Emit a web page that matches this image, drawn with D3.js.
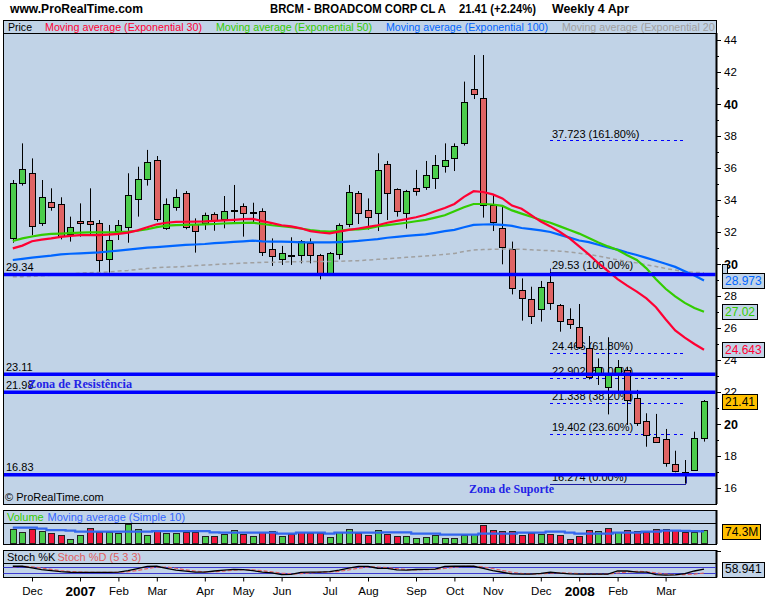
<!DOCTYPE html>
<html><head><meta charset="utf-8">
<script src="https://cdn.jsdelivr.net/npm/d3@7"></script>
<style>body{margin:0;background:#fff;}svg{display:block;font-family:"Liberation Sans",Arial,sans-serif;}</style>
</head><body><svg id="c" width="768" height="600"></svg>
<script>
// ---------------- DATA ----------------
const opens  = [31.6,35.04,35.67,32.54,33.86,33.73,31.88,32.71,32.71,32.54,30.29,32.04,32.29,34.04,35.31,36.5,32.23,33.54,34.42,32.5,32.54,33.13,32.79,33.36,33.63,33.19,33.31,30.92,30.33,30.58,30.58,31.33,30.54,29.42,30.6,32.48,34.42,33.35,33.21,36.23,34.67,33.17,34.73,34.83,35.4,36.15,36.65,37.58,40.92,40.35,33.69,32.23,30.94,28.38,27.79,27.17,28.9,27.44,26.56,26.04,24.73,23.21,22.29,23.21,23.38,21.65,20.21,19.17,19.04,17.48,16.97,17.13,19.1];
const highs  = [35.25,37.54,36.6,35.25,34.73,34.17,32.96,33.79,34.73,32.75,32.44,32.75,35.67,36.08,37.13,36.75,34.1,34.67,34.56,32.85,33.21,33.23,34.25,34.94,33.79,33.83,33.48,31.6,31.13,31.67,31.5,31.6,30.63,30.75,32.54,34.94,34.56,34.1,36.92,36.44,34.73,34.63,35.88,36.44,36.81,37.54,37.54,41.4,43.06,43.06,34.31,33.58,31.4,29.1,28.58,28.94,29.53,27.5,27.23,27.5,25.5,24.1,25.42,24.0,23.58,22.13,20.67,20.63,19.69,18.33,17.75,19.52,21.5];
const lows   = [31.33,34.9,31.8,32.38,33.33,31.54,31.4,31.71,31.81,29.46,29.46,31.5,31.33,32.96,34.9,32.65,32.13,33.33,32.17,30.71,32.13,32.08,32.23,32.58,31.71,32.58,30.5,29.88,29.94,29.94,30.04,30.04,29.04,29.35,30.29,32.3,32.5,32.15,32.06,32.75,32.96,32.21,34.27,34.63,34.69,35.71,35.81,37.4,40.31,32.9,32.06,29.98,28.1,26.46,26.25,26.4,27.13,25.77,25.94,24.69,22.79,22.44,20.6,22.02,19.94,19.88,18.58,18.86,17.33,16.98,16.27,17.08,18.9];
const closes = [35.04,35.92,32.38,34.17,33.58,31.75,32.33,32.54,32.48,30.25,31.5,32.42,34.31,35.31,36.4,32.79,33.73,34.17,32.33,32.08,33.06,32.75,33.31,33.4,33.17,33.23,30.77,30.52,30.67,30.54,31.44,30.54,29.42,30.67,32.42,34.48,33.17,32.96,35.88,34.46,33.33,34.56,34.58,35.56,36.19,36.5,37.38,40.13,40.6,33.69,32.65,31.04,28.48,27.86,26.77,28.58,27.54,26.46,26.23,24.79,22.96,23.54,23.17,23.54,21.5,20.04,19.29,18.9,17.54,17.06,17.0,19.1,21.41];

const ema30  = [30.98,31.15,31.42,31.52,31.6,31.7,31.76,31.8,31.81,31.81,31.84,31.88,31.96,32.1,32.3,32.48,32.58,32.63,32.64,32.65,32.66,32.7,32.73,32.76,32.8,32.82,32.68,32.55,32.42,32.35,32.23,32.05,31.97,31.92,32.02,32.13,32.22,32.32,32.42,32.58,32.7,32.8,32.92,33.08,33.3,33.5,33.75,34.2,34.55,34.5,34.35,34.1,33.65,33.45,33.05,32.65,32.35,32.0,31.6,31.1,30.6,30.05,29.55,29.05,28.65,28.27,27.85,27.3,26.55,25.85,25.4,25.0,24.643];
const ema50  = [31.44,31.6,31.72,31.82,31.88,31.9,31.93,31.96,31.98,31.98,31.98,31.99,32.02,32.08,32.17,32.3,32.4,32.43,32.44,32.46,32.48,32.5,32.53,32.55,32.57,32.58,32.5,32.42,32.37,32.3,32.22,32.12,32.05,32.02,32.08,32.15,32.17,32.22,32.35,32.43,32.5,32.58,32.67,32.76,32.9,33.05,33.3,33.55,33.75,33.75,33.72,33.63,33.35,33.15,32.95,32.75,32.58,32.35,32.13,31.9,31.62,31.35,31.1,30.88,30.55,30.25,29.73,29.05,28.45,27.98,27.57,27.25,27.02];
const ema100 = [30.25,30.32,30.4,30.46,30.52,30.6,30.64,30.67,30.7,30.73,30.78,30.84,30.9,30.96,31.02,31.06,31.1,31.15,31.19,31.22,31.25,31.3,31.34,31.38,31.42,31.46,31.42,31.4,31.4,31.38,31.35,31.35,31.35,31.35,31.37,31.4,31.44,31.5,31.56,31.64,31.7,31.76,31.8,31.85,31.95,32.05,32.13,32.3,32.44,32.47,32.48,32.45,32.38,32.25,32.18,32.1,32.0,31.82,31.65,31.47,31.37,31.2,31.03,30.9,30.72,30.56,30.38,30.2,30.02,29.82,29.55,29.28,28.973];
const ema200 = [29.2,29.21,29.22,29.26,29.3,29.33,29.37,29.43,29.46,29.47,29.5,29.56,29.6,29.66,29.72,29.77,29.8,29.82,29.85,29.9,29.93,29.96,30.0,30.03,30.06,30.08,30.1,30.11,30.12,30.14,30.15,30.15,30.15,30.16,30.17,30.19,30.21,30.25,30.29,30.33,30.37,30.42,30.46,30.5,30.55,30.6,30.66,30.78,30.88,30.9,30.92,30.93,30.93,30.92,30.89,30.86,30.83,30.8,30.75,30.67,30.59,30.5,30.38,30.26,30.16,30.07,29.95,29.85,29.72,29.62,29.52,29.48,29.45];

const volumes = [86,70,90,76,64,52,28,52,94,70,70,66,118,88,54,82,64,64,72,70,46,46,58,82,60,46,68,76,46,56,68,62,62,40,68,88,62,52,82,58,46,46,32,38,52,32,32,50,58,112,82,74,76,52,66,58,58,52,26,46,82,74,92,68,82,76,68,86,86,82,70,70,80];
const volumeDir = ("uududduudd"+"uuuuuduudd"+"uduududdud"+"ddduuuddud"+"duuuuuuuud"+"dddddudddd"+"dududddddd"+"duu").split("");
const volumeMA = [96,96,96,90,82,82,78,72,72,72,72,72,72,72,72,76,76,76,76,76,76,68,66,66,66,66,66,66,60,60,66,66,66,60,66,66,66,66,66,68,68,68,60,60,60,54,54,54,54,60,60,60,60,66,66,66,72,72,66,60,60,60,60,66,66,66,72,72,78,78,77,76,74.3];

const stochK = [87,87,72,55,45,36,30,29,29,29,29,32,45,65,86,87,66,50,40,32,32,42,50,58,55,45,32,25,8,10,29,32,32,35,50,70,86,86,68,67,52,50,56,58,60,86,87,87,87,67,45,30,14,13,13,20,30,22,14,13,13,13,13,42,42,32,32,7,3,5,16,42,58.941];
const stochD = [80,86,82,70,57,45,37,32,30,29,29,30,35,47,65,79,80,68,52,41,35,35,41,50,54,53,44,34,22,14,16,24,31,33,39,52,69,81,80,73,64,56,53,55,57,66,77,87,87,80,66,47,30,19,13,15,21,24,22,16,13,13,13,23,32,39,35,25,13,8,8,13,22];

const monthLabels = ["Dec","2007","Feb","Mar","Apr","May","Jun","Jul","Aug","Sep","Oct","Nov","Dec","2008","Feb","Mar"];
const monthIndex  = [2,7,11,15,20,24,28,33,37,42,46,50,55,59,63,68];
const priceTicks = [16,18,20,22,24,26,28,30,32,34,36,38,40,42,44];

const supportLevels = [29.34, 23.11, 21.98, 16.83];
const supportLabels = ["29.34","23.11","21.98","16.83"];
const fibValues = [37.723, 29.53, 24.466, 22.902, 21.338, 19.402, 16.274];
const fibPct    = ["161.80%","100.00%","61.80%","50.00%","38.20%","23.60%","0.00%"];
const fibStart = 56, fibEnd = 70;

// ---------------- LAYOUT ----------------
const svg = d3.select('#c');
const BG = '#c1d3e7';
const PL = 3.5, PR = 716;
const N = closes.length;
const x = d3.scaleLinear().domain([0, 72]).range([12.8, 704]);
const y = d3.scaleLinear().domain([16, 44]).range([488, 40]);
const yv = d3.scaleLinear().domain([0, 122.4]).range([543.7, 523.3]);
const ys = d3.scaleLinear().domain([0, 100]).range([575.4, 564.9]);

const GREEN = '#4ccd4c', RED = '#e06464', VRED = '#f2163c';
const C30 = '#ff0033', C50 = '#33cc00', C100 = '#0066ff', C200 = '#a0a0a0';

// header texts
[["www.ProRealTime.com",10,133],["BRCM - BROADCOM CORP CL A",270,176],["21.41 (+2.24%)",459,77],["Weekly  4 Apr",552,77]].forEach(d=>{
  svg.append('text').attr('x',d[1]).attr('y',12.5).attr('font-size',12.5).attr('font-weight','bold')
    .attr('textLength',d[2]).attr('lengthAdjust','spacingAndGlyphs').text(d[0]);
});

function box(y0, y1) {
  svg.append('rect').attr('x', PL).attr('y', y0).attr('width', PR - PL).attr('height', y1 - y0)
    .attr('fill', BG).attr('stroke', '#000').attr('stroke-width', 1).attr('shape-rendering','crispEdges');
}
box(20.5, 33.5); box(33.5, 504);
box(510.5, 523.5); box(523.5, 544);
box(550.5, 563.5); box(563.5, 577.5);

const defs = svg.append('defs');
defs.append('clipPath').attr('id','cp').append('rect').attr('x',PL+0.5).attr('y',34).attr('width',PR-PL-1).attr('height',469.5);
defs.append('clipPath').attr('id','cl').append('rect').attr('x',PL).attr('y',20).attr('width',PR-PL-1).attr('height',13);

// legend row
const leg = svg.append('g').attr('clip-path','url(#cl)').attr('font-size',11);
[["Price","#000",8,24],["Moving average (Exponential 30)",C30,45,157],["Moving average (Exponential 50)",C50,216,156],
 ["Moving average (Exponential 100)",C100,386,162],["Moving average (Exponential 200)",C200,562,162]].forEach(d=>{
  leg.append('text').attr('x',d[2]).attr('y',30.5).attr('fill',d[1])
    .attr('textLength',d[3]).attr('lengthAdjust','spacingAndGlyphs').text(d[0]);
});

// price panel
const pp = svg.append('g').attr('clip-path','url(#cp)');

// fibonacci
fibValues.forEach((v,k)=>{
  const solid = (k===1 || k===6);
  const yy = Math.round(y(v)) + 0.5;
  pp.append('line').attr('x1',x(fibStart)).attr('x2',x(fibEnd)+1).attr('y1',yy).attr('y2',yy)
    .attr('stroke', solid ? '#1a1aa0' : '#0000ff').attr('stroke-width',1)
    .attr('stroke-dasharray', solid ? null : '3,3.5').attr('shape-rendering','crispEdges');
  pp.append('text').attr('x',x(fibStart)+1.5).attr('y',y(v)-2.5).attr('font-size',11).attr('fill','#000')
    .text(`${v} (${fibPct[k]})`);
});
pp.append('line').attr('x1',Math.round(x(fibStart))+0.5).attr('x2',Math.round(x(fibStart))+0.5)
  .attr('y1',y(fibValues[1])-3).attr('y2',y(fibValues[1])).attr('stroke','#1a1aa0');
pp.append('line').attr('x1',Math.round(x(fibEnd))+1.5).attr('x2',Math.round(x(fibEnd))+1.5)
  .attr('y1',y(16.83)).attr('y2',y(fibValues[6])).attr('stroke','#1a1aa0');

// candles
const cg = pp.append('g');
d3.range(N).forEach(i=>{
  const cx = Math.round(x(i));
  cg.append('line').attr('x1',cx+0.5).attr('x2',cx+0.5).attr('y1',y(highs[i])).attr('y2',y(lows[i]))
    .attr('stroke','#000').attr('stroke-width',1);
  const top = Math.round(y(Math.max(opens[i],closes[i])));
  const bot = Math.round(y(Math.min(opens[i],closes[i])));
  cg.append('rect').attr('x',cx-2.5).attr('y',top+0.5).attr('width',6).attr('height',Math.max(1,bot-top))
    .attr('fill', closes[i]>=opens[i] ? GREEN : RED).attr('stroke','#000').attr('stroke-width',1)
    .attr('shape-rendering','crispEdges');
});

// moving averages
const ln = d3.line().x((d,i)=>x(i)).y(d=>y(d));
pp.append('path').attr('d',ln(ema200)).attr('fill','none').attr('stroke',C200).attr('stroke-width',1.5).attr('stroke-dasharray','4,3');
pp.append('path').attr('d',ln(ema100)).attr('fill','none').attr('stroke',C100).attr('stroke-width',2.2);
pp.append('path').attr('d',ln(ema50)).attr('fill','none').attr('stroke',C50).attr('stroke-width',2.2);
pp.append('path').attr('d',ln(ema30)).attr('fill','none').attr('stroke',C30).attr('stroke-width',2.2);

// support / resistance
supportLevels.forEach((v,k)=>{
  pp.append('line').attr('x1',PL).attr('x2',PR).attr('y1',y(v)).attr('y2',y(v)).attr('stroke','#0000ff').attr('stroke-width',3.5);
  pp.append('text').attr('x',6).attr('y',y(v)-3.5).attr('font-size',11).attr('fill','#000').text(supportLabels[k]);
});
pp.append('text').attr('x',28).attr('y',387.5).attr('font-family','"Liberation Serif","Times New Roman",serif')
  .attr('font-weight','bold').attr('font-size',13.5).attr('fill','#2323e6')
  .attr('textLength',104).attr('lengthAdjust','spacingAndGlyphs').text('Zona de Resistência');
pp.append('text').attr('x',469).attr('y',493.3).attr('font-family','"Liberation Serif","Times New Roman",serif')
  .attr('font-weight','bold').attr('font-size',13.5).attr('fill','#2323e6')
  .attr('textLength',85).attr('lengthAdjust','spacingAndGlyphs').text('Zona de Suporte');
svg.append('text').attr('x',5).attr('y',501).attr('font-size',11).text('© ProRealTime.com');

// right price axis
const ax = svg.append('g').attr('transform',`translate(${PR},0)`)
  .call(d3.axisRight(y).tickValues(priceTicks).tickSize(5).tickPadding(3).tickFormat(d=>d));
ax.select('.domain').remove();
ax.selectAll('text').attr('font-size',d=>d%10===0?12.5:11.5).attr('font-weight',d=>d%10===0?'bold':'normal')
  .attr('font-family','"Liberation Sans",Arial,sans-serif').attr('fill','#000');
const ax2 = svg.append('g').attr('transform',`translate(${PR},0)`)
  .call(d3.axisRight(y).tickValues(d3.range(17,44,2)).tickSize(3).tickFormat(''));
ax2.select('.domain').remove();
svg.append('line').attr('x1',PR+0.5).attr('x2',PR+0.5).attr('y1',33).attr('y2',504).attr('stroke','#000').attr('stroke-width',2);
svg.append('line').attr('x1',PR+0.5).attr('x2',PR+0.5).attr('y1',510).attr('y2',544).attr('stroke','#000').attr('stroke-width',2);
svg.append('line').attr('x1',PR+0.5).attr('x2',PR+0.5).attr('y1',550).attr('y2',577.5).attr('stroke','#000').attr('stroke-width',2);
svg.append('line').attr('x1',PR).attr('x2',PR+5).attr('y1',551.5).attr('y2',551.5).attr('stroke','#000');

// value boxes
function valBox(yc, txt, color, fill) {
  const g = svg.append('g');
  const t = g.append('text').attr('x',725).attr('y',yc+4.2).attr('font-size',12).attr('fill',color).text(txt);
  const w = t.node().getComputedTextLength();
  g.insert('rect','text').attr('x',722.5).attr('y',Math.round(yc-7.5)+0.5).attr('width',Math.round(w)+5).attr('height',15)
    .attr('fill',fill).attr('stroke','#000').attr('shape-rendering','crispEdges');
}
valBox(y(ema200[N-1])-1, '', C200, BG);
valBox(y(ema100[N-1]), '28.973', C100, BG);
valBox(y(ema50[N-1]), '27.02', C50, BG);
valBox(y(ema30[N-1]), '24.643', C30, BG);
valBox(y(closes[N-1]), '21.41', '#000', '#ffc000');

// volume panel
svg.append('text').attr('x',7).attr('y',521).attr('font-size',11).attr('fill',C50).text('Volume');
svg.append('text').attr('x',47.5).attr('y',521).attr('font-size',11).attr('fill','#3366ff').text('Moving average (Simple 10)');
d3.range(N).forEach(i=>{
  const cx = Math.round(x(i));
  const t = Math.round(yv(volumes[i]));
  svg.append('rect').attr('x',cx-2.5).attr('y',t+0.5).attr('width',6).attr('height',543.5-t-0.5)
    .attr('fill', volumeDir[i]==='u' ? GREEN : VRED).attr('stroke','#222').attr('shape-rendering','crispEdges');
});
svg.append('path').attr('d',d3.line().x((d,i)=>x(i)).y(d=>yv(d)).curve(d3.curveStep)(volumeMA))
  .attr('fill','none').attr('stroke','#3366ee').attr('stroke-width',2.2);
valBox(yv(volumeMA[N-1]), '74.3M', '#000', '#ffc000');

// stochastic panel
svg.append('text').attr('x',7).attr('y',561).attr('font-size',11).attr('fill','#000').text('Stoch %K');
svg.append('text').attr('x',57.5).attr('y',561).attr('font-size',11).attr('fill','#e06060').text('Stoch %D (5 3 3)');
[80,20].forEach(v=>{
  svg.append('line').attr('x1',PL).attr('x2',PR).attr('y1',Math.round(ys(v))+0.5).attr('y2',Math.round(ys(v))+0.5)
    .attr('stroke','#3b3bd0').attr('stroke-width',1);
});
const sl = d3.line().x((d,i)=>x(i)).y(d=>ys(d));
svg.append('path').attr('d',sl(stochD)).attr('fill','none').attr('stroke','#e06060').attr('stroke-width',1.2).attr('stroke-dasharray','4,2');
svg.append('path').attr('d',sl(stochK)).attr('fill','none').attr('stroke','#000').attr('stroke-width',1.3);
valBox(ys(stochK[N-1]), '58.941', '#000', BG);

// x axis
const xa = svg.append('g').attr('transform','translate(0,577.5)')
  .call(d3.axisBottom(x).tickValues(monthIndex).tickSize(4).tickPadding(5).tickFormat((d,i)=>monthLabels[i]));
xa.select('.domain').remove();
xa.selectAll('text').attr('font-family','"Liberation Sans",Arial,sans-serif').attr('fill','#000')
  .attr('font-size',(d,i)=>/^\d/.test(monthLabels[i])?13.5:11.5)
  .attr('font-weight',(d,i)=>/^\d/.test(monthLabels[i])?'bold':'normal');
</script></body></html>
